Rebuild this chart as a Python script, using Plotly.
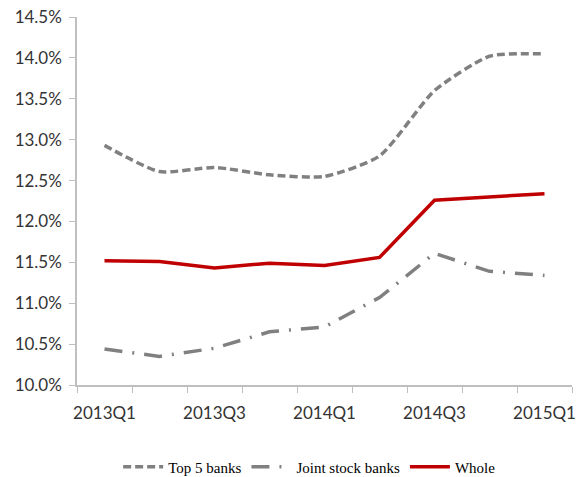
import plotly.graph_objects as go

quarters = ["2013Q1", "2013Q2", "2013Q3", "2013Q4", "2014Q1",
            "2014Q2", "2014Q3", "2014Q4", "2015Q1"]
tick_labels = ["2013Q1", "", "2013Q3", "", "2014Q1", "", "2014Q3", "", "2015Q1"]

top5 = [12.93, 12.61, 12.66, 12.57, 12.55, 12.80, 13.60, 14.02, 14.05]
joint_stock = [10.44, 10.35, 10.45, 10.65, 10.71, 11.07, 11.61, 11.39, 11.34]
whole = [11.52, 11.51, 11.43, 11.49, 11.46, 11.56, 12.26, 12.30, 12.34]

fig = go.Figure()
fig.add_trace(go.Scatter(
    x=quarters, y=top5, name="Top 5 banks", mode="lines",
    line=dict(color="#808080", width=3.5, dash="8px,4px", shape="spline", smoothing=0.6),
))
fig.add_trace(go.Scatter(
    x=quarters, y=joint_stock, name="Joint stock banks", mode="lines",
    line=dict(color="#808080", width=3.5, dash="18px,10px,2px,10px"),
))
fig.add_trace(go.Scatter(
    x=quarters, y=whole, name="Whole", mode="lines",
    line=dict(color="#C00000", width=3.5),
))

fig.update_layout(
    width=578, height=477,
    margin=dict(l=77, r=6, t=17, b=92, autoexpand=False),
    paper_bgcolor="white", plot_bgcolor="white",
    showlegend=True,
    legend=dict(
        orientation="h", x=0.47, xanchor="center", xref="paper",
        yref="container", y=0.021, yanchor="middle",
        font=dict(family="Liberation Serif", size=15, color="#000000"),
        itemwidth=40, tracegroupgap=0,
    ),
    xaxis=dict(
        type="category", tickson="boundaries",
        tickvals=quarters, ticktext=tick_labels, tickangle=0,
        ticks="outside", ticklen=6, tickcolor="#BFBFBF",
        showline=True, linecolor="#BFBFBF", linewidth=1.5,
        showgrid=False, zeroline=False, automargin=False,
        ticklabelstandoff=12,
        tickfont=dict(family="Lato", size=17, color="#333333"),
        range=[-0.5, 8.5],
    ),
    yaxis=dict(
        range=[10.0, 14.5], dtick=0.5, tick0=10.0,
        tickformat=".1f", ticksuffix="%",
        ticks="outside", ticklen=6, tickcolor="#BFBFBF",
        showline=True, linecolor="#BFBFBF", linewidth=1.5,
        showgrid=False, zeroline=False, automargin=False,
        ticklabelstandoff=4,
        tickfont=dict(family="Lato", size=17, color="#333333"),
    ),
)

fig.write_html("out.html")
